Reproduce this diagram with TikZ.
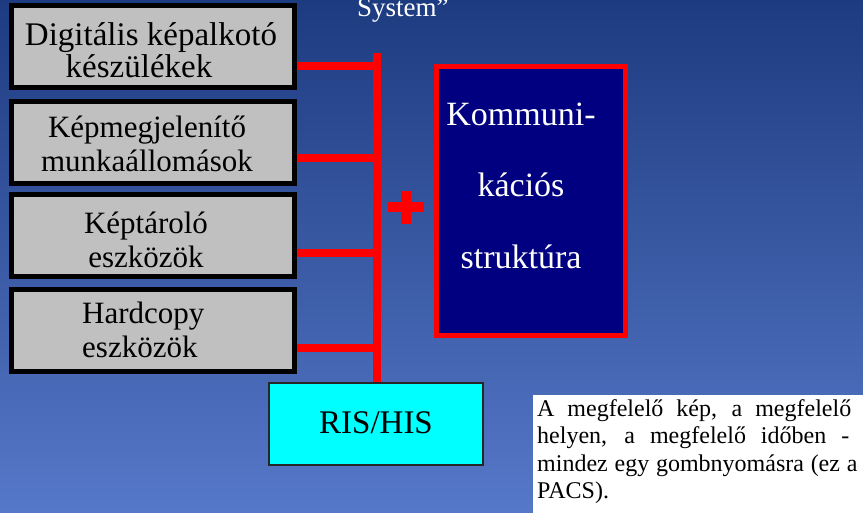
\documentclass[tikz,border=0pt]{standalone}
\usepackage{fontspec}
\setmainfont{Liberation Serif}
\newfontfamily\slidefont{Liberation Serif}
\definecolor{bgtop}{RGB}{29,59,128}
\definecolor{bgbot}{RGB}{86,120,200}
\definecolor{devgray}{RGB}{192,192,192}
\definecolor{busred}{RGB}{255,0,0}
\definecolor{navy}{RGB}{0,0,128}
\definecolor{risfill}{RGB}{0,255,255}
\begin{document}
\begin{tikzpicture}[x=1pt,y=-1pt,
  device/.style={draw=black, line width=5pt, fill=devgray,
    minimum width=283pt, minimum height=82pt, inner sep=0pt, outer sep=0pt},
  devtext/.style={inner sep=0pt, anchor=base, text=black,
    font=\slidefont\fontsize{31}{34.5}\selectfont},
  bus/.style={draw=busred, line width=8pt, line cap=butt},
  plusbar/.style={draw=busred, line width=9.5pt, line cap=butt},
  commbox/.style={draw=busred, line width=5pt, fill=navy,
    minimum width=189pt, minimum height=269pt, inner sep=0pt},
  risbox/.style={draw=black!85, line width=1.5pt, fill=risfill,
    minimum width=214pt, minimum height=82pt, inner sep=0pt,
    font=\slidefont\fontsize{33}{36}\selectfont},
  notebox/.style={fill=white, minimum width=340pt, minimum height=130pt,
    inner sep=0pt, anchor=north west},
  notetext/.style={inner sep=0pt, anchor=base west, text width=321pt,
    font=\slidefont\fontsize{24}{27.5}\selectfont, text=black}
]
\useasboundingbox (0,0) rectangle (863,512);
\shade[top color=bgtop, bottom color=bgbot] (0,0) rectangle (863,512);

% heading fragment at the top edge
\node[inner sep=0pt, anchor=base west, text=white,
  font=\slidefont\fontsize{27}{30}\selectfont] (sys) at (357,16) {System”};

% device boxes
\node[device] (dig) at (153,46.5) {};
\node[device] (disp) at (153,142.5) {};
\node[device] (store) at (153,235.5) {};
\node[device] (hard) at (153,330.5) {};

\node[devtext, font=\slidefont\fontsize{33}{31}\selectfont] (digtext) at (151,45)
  {\begin{tabular}[t]{@{}c@{}}Digitális képalkotó\\készülékek\kern24pt\end{tabular}};
\node[devtext] (disptext) at (147,137)
  {\begin{tabular}[t]{@{}c@{}}Képmegjelenítő\\munkaállomások\end{tabular}};
\node[devtext] (storetext) at (146,233)
  {\begin{tabular}[t]{@{}c@{}}Képtároló\\eszközök\end{tabular}};
\node[devtext, anchor=base west] (hardtext) at (82,323)
  {\begin{tabular}[t]{@{}l@{}}Hardcopy\\eszközök\end{tabular}};

% RIS/HIS
\node[risbox] (ris) at (376,424) {\raisebox{2pt}{RIS/HIS}};

% red bus and taps
\coordinate (bustop) at (377,53);
\draw[bus] (bustop) -- (bustop |- ris.north);
\draw[bus] ([yshift=-19pt]dig.east) -- ([yshift=-19pt]dig.east -| bustop);
\draw[bus] ([yshift=-15.5pt]disp.east) -- ([yshift=-15.5pt]disp.east -| bustop);
\draw[bus] ([yshift=-17.5pt]store.east) -- ([yshift=-17.5pt]store.east -| bustop);
\draw[bus] ([yshift=-17.5pt]hard.east) -- ([yshift=-17.5pt]hard.east -| bustop);
% box outlines and RIS/HIS box laid over the tap ends
\node[device, fill=none] at (dig) {};
\node[device, fill=none] at (disp) {};
\node[device, fill=none] at (store) {};
\node[device, fill=none] at (hard) {};
\node[risbox] at (ris) {\raisebox{2pt}{RIS/HIS}};

% plus sign
\coordinate (plus) at (406,207);
\draw[plusbar] ([xshift=-18pt]plus) -- ([xshift=18pt]plus);
\draw[plusbar] ([yshift=16.5pt]plus) -- ([yshift=-16.5pt]plus);

% communication structure
\node[commbox] (comm) at (530.5,200.5) {};
\node[inner sep=0pt, anchor=base, text=white,
  font=\slidefont\fontsize{34}{71.5}\selectfont] (commtext) at (521,125)
  {\begin{tabular}[t]{@{}c@{}}Kommuni-\\kációs\\struktúra\end{tabular}};

% note
\node[notebox] (note) at (533,395) {};
\node[notetext] (notetxt) at (537,416)
  {\hyphenpenalty=10000\spaceskip=0.25em plus 2em minus 0.05em
   A megfelelő kép, a megfelelő\linebreak
   helyen, a megfelelő időben -\linebreak
   mindez egy gombnyomásra (ez a\linebreak
   PACS).};
\end{tikzpicture}
\end{document}
